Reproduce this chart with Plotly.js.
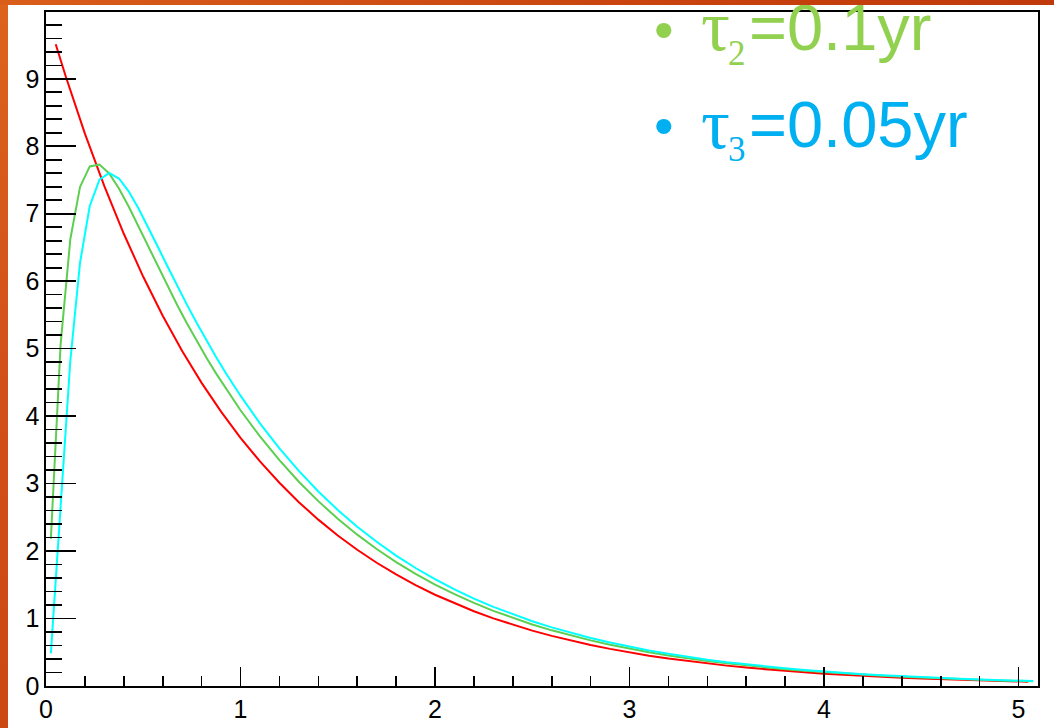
<!DOCTYPE html>
<html>
<head>
<meta charset="utf-8">
<script src="https://cdn.plot.ly/plotly-3.0.1.min.js"></script>
<style>
html,body{margin:0;padding:0;background:#fff;overflow:hidden;}
#wrap{position:relative;width:1054px;height:728px;}
#plot{position:absolute;left:0;top:0;width:1054px;height:728px;}
#bl{position:absolute;left:0;top:0;width:8px;height:728px;background:linear-gradient(to bottom,#dc641d,#d2501a 50%,#cc4812);z-index:10;}
#bt{position:absolute;left:0;top:0;width:1054px;height:5px;background:linear-gradient(to right,#d95d1b,#c9440f 60%,#c0390b);z-index:10;}
</style>
</head>
<body>
<div id="wrap"><div id="plot"></div><div id="bl"></div><div id="bt"></div></div>
<script>
// red: parent decay
const xRed = [0.05,0.1,0.2,0.3,0.4,0.5,0.6,0.7,0.8,0.9,
  1.0,1.1,1.2,1.3,1.4,1.5,1.6,1.7,1.8,1.9,
  2.0,2.1,2.2,2.3,2.4,2.5,2.6,2.7,2.8,2.9,
  3.0,3.1,3.2,3.3,3.4,3.5,3.6,3.7,3.8,3.9,
  4.0,4.1,4.2,4.3,4.4,4.5,4.6,4.7,4.8,4.9,
  5.0,5.05];
const yRed = [9.512,9.048,8.187,7.408,6.703,6.065,5.488,4.966,4.493,4.066,
  3.679,3.329,3.012,2.725,2.466,2.231,2.019,1.827,1.653,1.496,
  1.353,1.225,1.108,1.003,0.907,0.821,0.743,0.672,0.608,0.550,
  0.498,0.450,0.408,0.369,0.334,0.302,0.273,0.247,0.224,0.202,
  0.183,0.166,0.150,0.136,0.123,0.111,0.101,0.091,0.082,0.074,
  0.067,0.064];
// green (tau2 = 0.1 yr) and cyan (tau3 = 0.05 yr)
const xDaughter = [0.025,0.075,0.125,0.175,0.225,0.275,0.325,0.375,0.425,0.475,
  0.525,0.575,0.625,0.675,0.725,0.775,0.825,0.875,0.925,0.975,
  1.0,1.1,1.2,1.3,1.4,1.5,1.6,1.7,1.8,1.9,
  2.0,2.1,2.2,2.3,2.4,2.5,2.6,2.7,2.8,2.9,
  3.0,3.1,3.2,3.3,3.4,3.5,3.6,3.7,3.8,3.9,
  4.0,4.1,4.2,4.3,4.4,4.5,4.6,4.7,4.8,4.9,
  5.0,5.075];
const yGreen = [2.183,5.060,6.622,7.397,7.701,7.729,7.597,7.375,7.106,6.814,
  6.515,6.217,5.926,5.644,5.373,5.114,4.866,4.630,4.405,4.190,
  4.087,3.699,3.347,3.028,2.740,2.479,2.243,2.030,1.837,1.662,
  1.504,1.361,1.231,1.114,1.008,0.912,0.825,0.747,0.676,0.611,
  0.553,0.501,0.453,0.410,0.371,0.336,0.304,0.275,0.249,0.225,
  0.204,0.184,0.167,0.151,0.136,0.123,0.112,0.101,0.091,0.083,
  0.075,0.069];
const yCyan = [0.484,2.703,4.819,6.274,7.115,7.506,7.605,7.522,7.332,7.082,
  6.802,6.510,6.217,5.929,5.649,5.379,5.120,4.872,4.636,4.411,
  4.303,3.893,3.523,3.188,2.884,2.610,2.361,2.137,1.933,1.749,
  1.583,1.432,1.296,1.173,1.061,0.960,0.869,0.786,0.711,0.644,
  0.582,0.527,0.477,0.431,0.390,0.353,0.320,0.289,0.262,0.237,
  0.214,0.194,0.175,0.159,0.144,0.130,0.118,0.106,0.096,0.087,
  0.079,0.073];

const legendTau = ['\u03c4','\u03c4'];
const legendSub = ['2','3'];
const legendRest = ['=0.1yr','=0.05yr'];
const legendColors = ['#92d050','#00b0f0'];

const traces = [
  {x:xRed, y:yRed, type:'scatter', mode:'lines', line:{color:'#ff0000', width:2}, hoverinfo:'skip'},
  {x:xDaughter, y:yGreen, type:'scatter', mode:'lines', line:{color:'#5ccf50', width:2}, hoverinfo:'skip'},
  {x:xDaughter, y:yCyan, type:'scatter', mode:'lines', line:{color:'#00ffff', width:2}, hoverinfo:'skip'}
];

// pixel -> paper helpers (plot area: x 46..1038, y 12..686)
const px = v => (v-46)/992;
const py = v => (686-v)/674;
const sans = 'Liberation Sans, Arial, sans-serif';
const serif = 'Liberation Serif, Times New Roman, serif';
const rows = [{bullet:29.5, tau:26.5, sub:53, rest:27.3},{bullet:126, tau:123.5, sub:150, rest:124.3}];
const annotations = [];
rows.forEach((r,i)=>{
  const c = legendColors[i];
  annotations.push({xref:'paper', yref:'paper', x:px(664), y:py(r.bullet), xanchor:'center', yanchor:'middle', text:'\u2022', showarrow:false, borderpad:0, font:{family:sans, size:56, color:c}});
  annotations.push({xref:'paper', yref:'paper', x:px(700), y:py(r.tau), xanchor:'left', yanchor:'middle', text:legendTau[i], showarrow:false, borderpad:0, font:{family:serif, size:72, color:c}});
  annotations.push({xref:'paper', yref:'paper', x:px(727), y:py(r.sub), xanchor:'left', yanchor:'middle', text:legendSub[i], showarrow:false, borderpad:0, font:{family:serif, size:35, color:c}});
  annotations.push({xref:'paper', yref:'paper', x:px(748), y:py(r.rest), xanchor:'left', yanchor:'middle', text:legendRest[i], showarrow:false, borderpad:0, font:{family:sans, size:65, color:c}});
});

const axisCommon = {
  ticks:'inside', tickcolor:'black', tickwidth:1.6,
  showline:true, linecolor:'black', linewidth:1.6, mirror:true,
  showgrid:false, zeroline:false, tick0:0, dtick:1,
  tickfont:{family:sans, size:25, color:'black'}
};
const layout = {
  width:1054, height:728,
  margin:{l:46, r:16, t:12, b:42, pad:0},
  paper_bgcolor:'white', plot_bgcolor:'white',
  showlegend:false,
  font:{family:sans, color:'black'},
  xaxis:Object.assign({}, axisCommon, {range:[0,5.1], ticklen:19,
    minor:{ticks:'inside', ticklen:10, dtick:0.2, tick0:0, tickwidth:1.6, tickcolor:'black', showgrid:false}}),
  yaxis:Object.assign({}, axisCommon, {range:[0,9.99], ticklen:30,
    minor:{ticks:'inside', ticklen:16, dtick:0.2, tick0:0, tickwidth:1.6, tickcolor:'black', showgrid:false}}),
  annotations:annotations
};
Plotly.newPlot('plot', traces, layout, {staticPlot:true, displayModeBar:false});
</script>
</body>
</html>
